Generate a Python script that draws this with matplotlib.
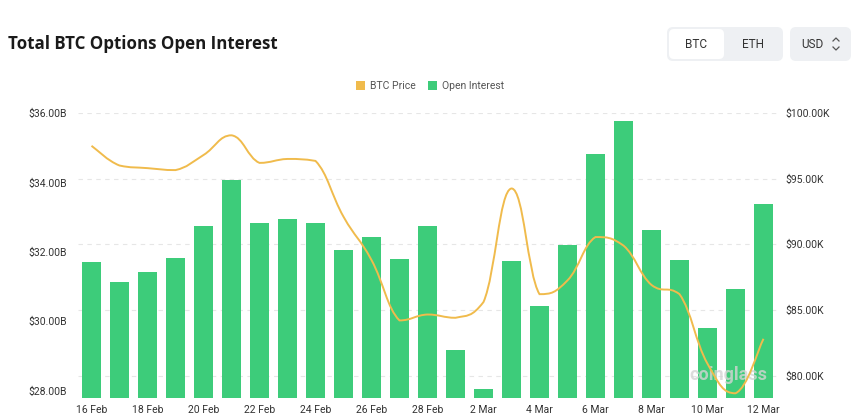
import numpy as np
import matplotlib
matplotlib.use("Agg")
import matplotlib.pyplot as plt
from matplotlib.path import Path
from matplotlib.patches import PathPatch, FancyBboxPatch, Patch

# datos
fechas = ["16 Feb", "17 Feb", "18 Feb", "19 Feb", "20 Feb", "21 Feb", "22 Feb",
          "23 Feb", "24 Feb", "25 Feb", "26 Feb", "27 Feb", "28 Feb",
          "1 Mar", "2 Mar", "3 Mar", "4 Mar", "5 Mar", "6 Mar", "7 Mar",
          "8 Mar", "9 Mar", "10 Mar", "11 Mar", "12 Mar"]
open_interest = [31.70, 31.14, 31.42, 31.83, 32.74, 34.06, 32.84, 32.94, 32.83,
                 32.05, 32.43, 31.78, 32.74, 29.18, 28.03, 31.72, 30.43, 32.20,
                 34.82, 35.77, 32.62, 31.77, 29.80, 30.93, 33.39]  # miles de millones USD
btc_price = [97.5, 96.0, 95.8, 95.65, 96.8, 98.3, 96.2, 96.5, 96.35,
             92.1, 88.8, 84.2, 84.65, 84.4, 85.6, 94.25, 86.2, 87.25,
             90.55, 89.9, 86.9, 86.2, 80.9, 78.65, 82.8]  # miles USD
ticks_oi = [28, 30, 32, 34, 36]
ticks_precio = [80, 85, 90, 95, 100]

verde = "#3dcc7a"
naranja = "#f0bb4c"
gris_texto = "#333333"


def curva_suave(xs, ys, k=0.22):
    # curva bezier que pasa por los puntos, sin sobrepasar cada tramo
    xs = np.asarray(xs, float)
    ys = np.asarray(ys, float)
    n = len(xs)
    verts = [(xs[0], ys[0])]
    codes = [Path.MOVETO]
    for i in range(n - 1):
        i0 = max(i - 1, 0)
        i2 = min(i + 2, n - 1)
        lo, hi = min(ys[i], ys[i + 1]), max(ys[i], ys[i + 1])
        y1 = np.clip(ys[i] + (ys[i + 1] - ys[i0]) * k, lo, hi)
        y2 = np.clip(ys[i + 1] - (ys[i2] - ys[i]) * k, lo, hi)
        c1 = (xs[i] + (xs[i + 1] - xs[i0]) * k, y1)
        c2 = (xs[i + 1] - (xs[i2] - xs[i]) * k, y2)
        verts += [c1, c2, (xs[i + 1], ys[i + 1])]
        codes += [Path.CURVE4] * 3
    return Path(verts, codes)


plt.rcParams["font.family"] = ["Roboto", "DejaVu Sans"]

fig = plt.figure(figsize=(8.6, 4.18), dpi=100)

# capa de fondo para titulo y botones (coordenadas en pixeles)
capa = fig.add_axes([0, 0, 1, 1])
capa.set_xlim(0, 860)
capa.set_ylim(418, 0)
capa.axis("off")

capa.text(8, 44, "Total BTC Options Open Interest", fontsize=12.2, fontweight="bold",
          family=["Open Sans", "DejaVu Sans"], color="#1a1a1a", va="center", ha="left")

capa.add_patch(FancyBboxPatch((667, 27), 116, 34, boxstyle="round,pad=0,rounding_size=6",
                              fc="#eef0f3", ec="none"))
capa.add_patch(FancyBboxPatch((669, 29), 55, 30, boxstyle="round,pad=0,rounding_size=5",
                              fc="white", ec="none"))
capa.add_patch(FancyBboxPatch((790, 27), 61, 34, boxstyle="round,pad=0,rounding_size=6",
                              fc="#eef0f3", ec="none"))
capa.text(696, 44, "BTC", fontsize=8.5, color=gris_texto, ha="center", va="center")
capa.text(753, 44, "ETH", fontsize=8.5, color=gris_texto, ha="center", va="center")
capa.text(812, 44, "USD", fontsize=8.5, color=gris_texto, ha="center", va="center")
capa.plot([833, 836, 839], [41, 38, 41], color="#555555", lw=0.9)
capa.plot([833, 836, 839], [47, 50, 47], color="#555555", lw=0.9)

# grafico principal
x = np.arange(len(fechas))
ax = fig.add_axes([77.5 / 860, 20 / 418, 700 / 860, 285 / 418])
ax2 = ax.twinx()

ax.set_xlim(-0.5, len(fechas) - 0.5)
ax.set_ylim(27.784, 36.0)
ax2.set_ylim(78.29, 100.0)

# lineas de cuadricula del eje derecho, por debajo de las barras
for v in ticks_precio:
    ax.plot([-0.5, len(fechas) - 0.5], [v, v], transform=ax2.transData,
            color="#e6e6e6", lw=0.8, ls=(0, (4, 4)), zorder=0)

ax.bar(x, open_interest, width=0.68, color=verde, zorder=2)

ax2.add_patch(PathPatch(curva_suave(x, btc_price), fill=False, ec=naranja, lw=1.4, zorder=3))
ax2.text(0.93, 0.08, "coinglass", fontsize=13, fontweight="bold", color="#d4d4d4",
         alpha=0.8, ha="center", va="center", zorder=1, transform=ax2.transAxes)

ax.set_xticks(x[::2])
ax.set_xticklabels(fechas[::2])
ax.set_yticks(ticks_oi)
ax.set_yticklabels([f"${v:.2f}B" for v in ticks_oi])
ax2.set_yticks(ticks_precio)
ax2.set_yticklabels([f"${v:.2f}K" for v in ticks_precio])

ax.tick_params(axis="x", length=0, pad=5, labelsize=7.5, labelcolor=gris_texto)
ax.tick_params(axis="y", length=0, pad=7.5, labelsize=7.5, labelcolor=gris_texto)
ax2.tick_params(axis="y", length=0, pad=5.5, labelsize=7.5, labelcolor=gris_texto)

for a in (ax, ax2):
    for s in a.spines.values():
        s.set_visible(False)
    a.patch.set_visible(False)

manejadores = [Patch(fc=naranja, ec="none"), Patch(fc=verde, ec="none")]
fig.legend(manejadores, ["BTC Price", "Open Interest"], loc="center",
           bbox_to_anchor=(430 / 860, 1 - 86 / 418), ncol=2, frameon=False,
           fontsize=7.5, handlelength=0.85, handleheight=0.85, handletextpad=0.5,
           columnspacing=1.2, labelcolor="#555555")

fig.savefig("out.png", dpi=100)
